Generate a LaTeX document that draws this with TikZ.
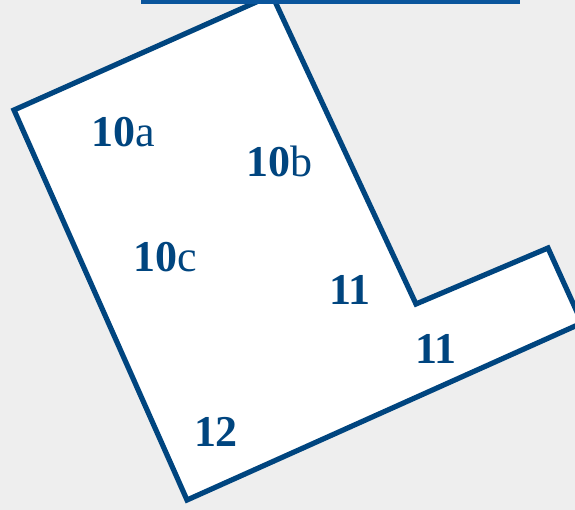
\documentclass[tikz,border=0pt]{standalone}
\usepackage{fontspec}
\setmainfont{Liberation Serif}
\definecolor{ink}{HTML}{00457F}
\definecolor{bar}{HTML}{0A559C}
\definecolor{paper}{HTML}{EEEEEE}
\begin{document}
\begin{tikzpicture}[x=0.5pt,y=-0.5pt,every node/.style={font=\fontsize{22}{22}\selectfont,color=ink,inner sep=0pt}]
\fill[paper] (0,0) rectangle (575,510);
\useasboundingbox (0,0) rectangle (575,510);
\begin{scope}
\clip (0,0) rectangle (575,510);
\draw[ink,line width=2.6pt,fill=white,line join=miter] (272,-5) -- (416,304) -- (548,248) -- (582,323) -- (187,500) -- (14,110) -- cycle;
\end{scope}
\fill[bar] (141,-1) rectangle (520,4);
\foreach \n/\d/\l/\px/\py in {%
  tenA/10/a/123/146, tenB/10/b/280/176, tenC/10/c/165/271,
  elevenA/11//350/304, elevenB/11//436/363, twelve/12//216/446}{
  \node[anchor=base] (\n) at (\px,\py) {\textbf{\d}\l};
}
\end{tikzpicture}
\end{document}
